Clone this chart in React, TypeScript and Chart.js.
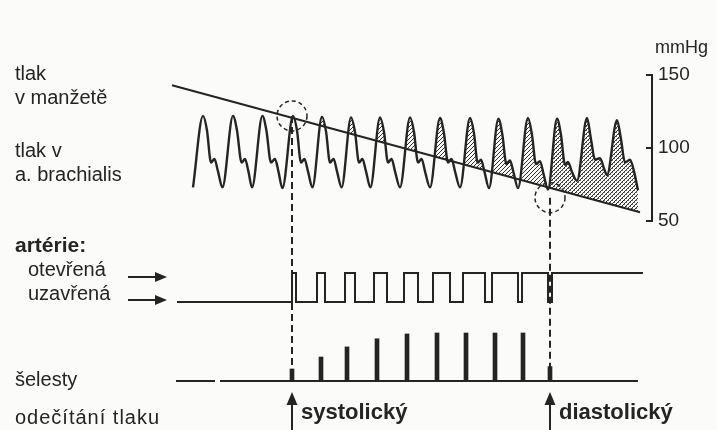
import React, { useEffect, useRef } from 'react';
import { Chart, registerables } from 'chart.js';

Chart.register(...registerables);

// ---------------- data (time in s, pressure in mmHg) ----------------
const PRESSURE_TICKS = [50, 100, 150];

// cuff pressure: linear deflation
const CUFF_T = [0, 11.7];
const CUFF_P = [143, 56];

// pressure in a. brachialis (pulse wave)
const PULSE_T = [
  0.525,
  0.775, 0.875, 0.975, 1.06, 1.15, 1.26,
  1.525, 1.625, 1.74, 1.825, 1.91, 2.0,
  2.26, 2.36, 2.475, 2.575, 2.66, 2.76,
  3.025, 3.125, 3.225, 3.31, 3.4, 3.51,
  3.75, 3.85, 3.95, 4.04, 4.125, 4.24,
  4.475, 4.575, 4.675, 4.76, 4.85, 4.96,
  5.2, 5.3, 5.4, 5.49, 5.575, 5.7,
  5.95, 6.05, 6.15, 6.24, 6.325, 6.45,
  6.7, 6.8, 6.9, 6.99, 7.075, 7.2,
  7.45, 7.55, 7.64, 7.725, 7.81, 7.925,
  8.16, 8.26, 8.36, 8.45, 8.54, 8.65,
  8.9, 9.0, 9.1, 9.2, 9.29, 9.4,
  9.625, 9.725, 9.825, 9.9, 10.0, 10.125,
  10.375, 10.475, 10.575, 10.7, 10.8, 10.875,
  11.125, 11.225, 11.325, 11.45, 11.55, 11.65,
];
const PULSE_P = [
  73,
  122, 112, 90, 92.5, 84, 73,
  122, 112, 90, 92.5, 84, 73,
  122, 112, 90, 92.5, 84, 72.5,
  122, 112, 90, 92.5, 84, 73,
  121.5, 111.5, 90, 92.5, 84, 73,
  121, 111, 90, 92.5, 84, 73,
  121, 111, 90, 92.5, 84, 73,
  121, 111, 90, 92.5, 84, 73,
  120.5, 110, 90, 92.5, 84, 73,
  120.5, 110, 90, 92, 84, 72.5,
  120, 109, 89, 91.5, 83, 72.5,
  120.5, 109, 89, 91, 82, 71.5,
  120, 109, 88.5, 90.5, 83.5, 77.5,
  120.5, 106, 92, 93, 86, 81.5,
  119, 106, 90, 92, 84, 71,
];

// artery state: 0 = closed (uzavřená), 1 = open (otevřená)
const ARTERY_T = [0.125, 3.0, 3.1, 3.625, 3.825, 4.325, 4.575, 5.05, 5.375, 5.8, 6.15, 6.525, 6.95, 7.275, 7.825, 8.0, 8.65, 8.75, 9.4, 9.5, 11.775];
const ARTERY_STATE = [0, 1, 0, 1, 0, 1, 0, 1, 0, 1, 0, 1, 0, 1, 0, 1, 0, 1, 0, 1, 1];

// Korotkoff sounds (relative intensity)
const SOUND_T = [3.0, 3.725, 4.375, 5.125, 5.875, 6.625, 7.35, 8.075, 8.775, 9.45];
const SOUND_AMP = [0.25, 0.5, 0.71, 0.88, 0.98, 1.0, 1.0, 1.0, 1.0, 0.3];
const SOUND_BASE_T = [0.1, 1.075, 1.14, 1.2, 11.65];
const SOUND_BASE_V = [0, 0, null, 0, 0];

// readings
const SYSTOLIC = { t: 3.0, p: 122 };
const DIASTOLIC = { t: 9.45, p: 66 };

// texts
const CUFF_LABEL = ['tlak', 'v manžetě'];
const ARTERY_LABEL = ['tlak v', 'a. brachialis'];
const STATE_LABEL = 'artérie:';
const OPEN_LABEL = 'otevřená';
const CLOSED_LABEL = 'uzavřená';
const SOUNDS_LABEL = 'šelesty';
const READING_LABEL = 'odečítání tlaku';
const SYS_LABEL = 'systolický';
const DIA_LABEL = 'diastolický';
const UNIT_LABEL = 'mmHg';

// ---------------- layout / style ----------------
const W = 717;
const H = 430;
const AREA = { left: 172, right: 640, top: 75, bottom: 221 };
const INK = '#242424';
const BG = '#fbfbf9';
const FONT = '"Liberation Sans", Arial, Helvetica, sans-serif';

function extendedRange(v0: number, px0: number, v1: number, px1: number) {
  const k = (v1 - v0) / (px0 - px1);
  return { min: v0 + (px0 - AREA.bottom) * k, max: v0 + (px0 - AREA.top) * k };
}

function makeHatch(): CanvasPattern | string {
  const c = document.createElement('canvas');
  c.width = 4;
  c.height = 4;
  const g = c.getContext('2d');
  if (!g) return '#888';
  g.strokeStyle = '#2e2e2e';
  g.lineWidth = 1;
  g.beginPath();
  g.moveTo(-1, 1); g.lineTo(1, -1);
  g.moveTo(-1, 5); g.lineTo(5, -1);
  g.moveTo(3, 5); g.lineTo(5, 3);
  g.stroke();
  return g.createPattern(c, 'repeat') || '#888';
}

function makeStipple(): CanvasPattern | string {
  const c = document.createElement('canvas');
  c.width = 4;
  c.height = 4;
  const g = c.getContext('2d');
  if (!g) return 'rgba(0,0,0,0.2)';
  g.fillStyle = 'rgba(60,60,60,0.75)';
  g.fillRect(0, 0, 1, 1);
  g.fillRect(2, 2, 1, 1);
  return g.createPattern(c, 'repeat') || 'rgba(0,0,0,0.2)';
}

function arrowHead(ctx: CanvasRenderingContext2D, x: number, y: number, dir: 'right' | 'up', len: number, half: number) {
  ctx.beginPath();
  if (dir === 'right') {
    ctx.moveTo(x, y);
    ctx.lineTo(x - len, y - half);
    ctx.lineTo(x - len, y + half);
  } else {
    ctx.moveTo(x, y);
    ctx.lineTo(x - half, y + len);
    ctx.lineTo(x + half, y + len);
  }
  ctx.closePath();
  ctx.fill();
}

function drawText(ctx: CanvasRenderingContext2D, text: string, x: number, y: number, font: string, spacing = 0) {
  ctx.font = font;
  const c: any = ctx;
  if (spacing && 'letterSpacing' in c) c.letterSpacing = `${spacing}px`;
  ctx.fillText(text, x, y);
  if ('letterSpacing' in c) c.letterSpacing = '0px';
}

const decorations = {
  id: 'decorations',
  afterDatasetsDraw(chart: any) {
    const ctx: CanvasRenderingContext2D = chart.ctx;
    const sx = chart.scales.x;
    const yP = chart.scales.yP;
    const yA = chart.scales.yA;
    const yS = chart.scales.yS;
    ctx.save();
    ctx.strokeStyle = INK;
    ctx.fillStyle = INK;

    // pressure axis bracket
    const ax = yP.left + 12;
    const yTop = yP.getPixelForValue(PRESSURE_TICKS[PRESSURE_TICKS.length - 1]);
    const yBot = yP.getPixelForValue(PRESSURE_TICKS[0]);
    ctx.lineWidth = 2;
    ctx.beginPath();
    ctx.moveTo(ax - 6, yTop);
    ctx.lineTo(ax, yTop);
    ctx.lineTo(ax, yBot);
    ctx.lineTo(ax - 6, yBot);
    PRESSURE_TICKS.slice(1, -1).forEach((v) => {
      const y = yP.getPixelForValue(v);
      ctx.moveTo(ax - 6, y);
      ctx.lineTo(ax, y);
    });
    ctx.stroke();

    // dashed reading lines and circles
    const base = yS.getPixelForValue(0);
    [SYSTOLIC, DIASTOLIC].forEach((m) => {
      const px = sx.getPixelForValue(m.t);
      const py = yP.getPixelForValue(m.p);
      ctx.setLineDash([7, 4]);
      ctx.lineWidth = 2;
      ctx.beginPath();
      ctx.moveTo(px, py);
      ctx.lineTo(px, base);
      ctx.stroke();
      ctx.setLineDash([4, 3]);
      ctx.lineWidth = 1.5;
      ctx.beginPath();
      ctx.arc(px, py, 15, 0, Math.PI * 2);
      ctx.stroke();
    });
    ctx.setLineDash([]);

    // bottom arrows
    [SYSTOLIC, DIASTOLIC].forEach((m) => {
      const px = sx.getPixelForValue(m.t);
      ctx.lineWidth = 2;
      ctx.beginPath();
      ctx.moveTo(px, base + 20);
      ctx.lineTo(px, H + 2);
      ctx.stroke();
      arrowHead(ctx, px, base + 11, 'up', 13, 5.5);
    });

    // artery state arrows
    const yOpen = yA.getPixelForValue(1) + 4;
    const yClosed = yA.getPixelForValue(0) - 2;
    [yOpen, yClosed].forEach((y) => {
      ctx.lineWidth = 2;
      ctx.beginPath();
      ctx.moveTo(128, y);
      ctx.lineTo(158, y);
      ctx.stroke();
      arrowHead(ctx, 167, y, 'right', 12, 5);
    });

    // texts
    ctx.textAlign = 'left';
    ctx.textBaseline = 'alphabetic';
    const f = `20px ${FONT}`;
    drawText(ctx, CUFF_LABEL[0], 15, 80, f);
    drawText(ctx, CUFF_LABEL[1], 15, 104, f);
    drawText(ctx, ARTERY_LABEL[0], 15, 157, f);
    drawText(ctx, ARTERY_LABEL[1], 15, 181, f);
    drawText(ctx, OPEN_LABEL, 28, 276, f);
    drawText(ctx, CLOSED_LABEL, 28, 300, f);
    drawText(ctx, SOUNDS_LABEL, 15, 386, f);
    drawText(ctx, READING_LABEL, 15, 424, f, 1);
    drawText(ctx, UNIT_LABEL, 655, 53, `18px ${FONT}`);
    drawText(ctx, STATE_LABEL, 15, 252, `bold 21px ${FONT}`);
    const fb = `bold 22px ${FONT}`;
    drawText(ctx, SYS_LABEL, sx.getPixelForValue(SYSTOLIC.t) + 9, 419, fb);
    drawText(ctx, DIA_LABEL, sx.getPixelForValue(DIASTOLIC.t) + 9, 419, fb);
    ctx.restore();
  },
};

export default function App() {
  const ref = useRef<HTMLCanvasElement | null>(null);

  useEffect(() => {
    const canvas = ref.current;
    if (!canvas) return;
    const hatch = makeHatch();
    const stipple = makeStipple();
    const arteryRange = extendedRange(0, 302, 1, 273);
    const soundRange = extendedRange(0, 381, 1, 333);
    const pulse = PULSE_T.map((t, i) => ({ x: t, y: PULSE_P[i] }));
    const latePulse = pulse.filter((p) => p.x >= DIASTOLIC.t - 0.06);

    const chart = new Chart(canvas, {
      type: 'line',
      data: {
        datasets: [
          {
            type: 'line',
            label: 'tlak v manžetě',
            data: CUFF_T.map((t, i) => ({ x: t, y: CUFF_P[i] })),
            yAxisID: 'yP',
            borderColor: INK,
            borderWidth: 2,
            pointRadius: 0,
            fill: false,
            clip: false,
          },
          {
            type: 'line',
            label: 'tlak v a. brachialis',
            data: pulse,
            yAxisID: 'yP',
            borderColor: INK,
            borderWidth: 2.4,
            pointRadius: 0,
            cubicInterpolationMode: 'monotone',
            borderJoinStyle: 'round',
            fill: { target: 0, above: hatch, below: 'rgba(0,0,0,0)' },
            clip: false,
          },
          {
            type: 'line',
            label: 'tlak v a. brachialis (po diastole)',
            data: latePulse,
            yAxisID: 'yP',
            borderColor: 'rgba(0,0,0,0)',
            borderWidth: 0,
            pointRadius: 0,
            cubicInterpolationMode: 'monotone',
            fill: { target: 0, above: stipple, below: 'rgba(0,0,0,0)' },
            clip: false,
          },
          {
            type: 'line',
            label: 'artérie',
            data: ARTERY_T.map((t, i) => ({ x: t, y: ARTERY_STATE[i] })),
            yAxisID: 'yA',
            stepped: 'before',
            borderColor: INK,
            borderWidth: 2,
            pointRadius: 0,
            fill: false,
            clip: false,
          },
          {
            type: 'line',
            label: 'šelesty – základní linie',
            data: SOUND_BASE_T.map((t, i) => ({ x: t, y: SOUND_BASE_V[i] })),
            yAxisID: 'yS',
            borderColor: INK,
            borderWidth: 2,
            pointRadius: 0,
            spanGaps: false,
            fill: false,
            clip: false,
          },
          {
            type: 'bar',
            label: 'šelesty',
            data: SOUND_T.map((t, i) => ({ x: t, y: SOUND_AMP[i] })),
            yAxisID: 'yS',
            backgroundColor: INK,
            barThickness: 4,
            clip: false,
          } as any,
        ],
      },
      options: {
        responsive: false,
        animation: false,
        events: [],
        layout: {
          padding: { left: AREA.left, top: AREA.top, right: 0, bottom: H - AREA.bottom },
        },
        plugins: {
          legend: { display: false },
          tooltip: { enabled: false },
        },
        scales: {
          x: { type: 'linear', min: 0, max: 11.7, offset: false, display: false, grid: { offset: false } },
          yP: {
            type: 'linear',
            position: 'right',
            min: 50,
            max: 150,
            afterBuildTicks: (s: any) => {
              s.ticks = PRESSURE_TICKS.map((v) => ({ value: v }));
            },
            afterFit: (s: any) => {
              s.width = W - AREA.right;
            },
            grid: { display: false, drawTicks: false },
            border: { display: false },
            ticks: {
              padding: 18,
              color: INK,
              font: { family: FONT, size: 19 },
              crossAlign: 'near',
            },
          },
          yA: { type: 'linear', display: false, min: arteryRange.min, max: arteryRange.max },
          yS: { type: 'linear', display: false, min: soundRange.min, max: soundRange.max },
        },
      } as any,
      plugins: [decorations],
    });
    return () => chart.destroy();
  }, []);

  return (
    <div style={{ position: 'fixed', left: 0, top: 0, width: W, height: H, background: BG }}>
      <canvas ref={ref} width={W} height={H} style={{ display: 'block', width: W, height: H }} />
    </div>
  );
}
